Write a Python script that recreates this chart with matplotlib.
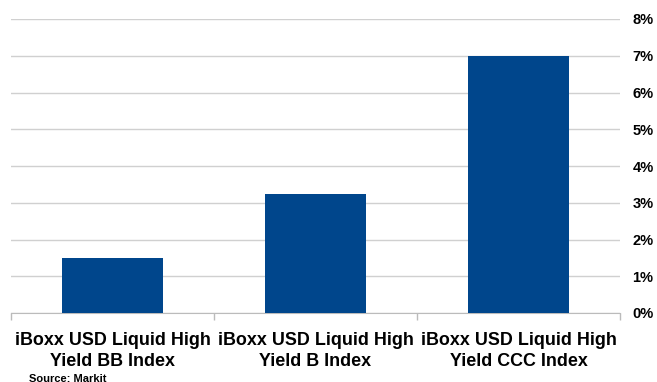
import matplotlib
matplotlib.use("Agg")
import matplotlib.pyplot as plt
from matplotlib.ticker import FuncFormatter, FixedLocator

categories = ["iBoxx USD Liquid High\nYield BB Index",
              "iBoxx USD Liquid High\nYield B Index",
              "iBoxx USD Liquid High\nYield CCC Index"]
values = [1.5, 3.25, 7.0]
yticks = [0, 1, 2, 3, 4, 5, 6, 7, 8]

plt.rcParams['font.family'] = ['Liberation Sans', 'DejaVu Sans']

fig = plt.figure(figsize=(6.57, 3.82), dpi=100)
ax = fig.add_axes([11/657, 1-313/382, (620-11)/657, (313-19)/382])

x = list(range(len(categories)))
ax.bar(x, values, width=0.5, color="#00468C", zorder=3)
ax.set_xlim(-0.5, len(categories)-0.5)
ax.set_ylim(0, 8)
ax.yaxis.tick_right()
ax.set_yticks(yticks)
ax.yaxis.set_major_formatter(FuncFormatter(lambda v, p: f"{int(v)}%"))
ax.tick_params(axis='y', length=0, pad=9, labelsize=10.5)
for lab in ax.get_yticklabels():
    lab.set_fontweight('bold')
ax.grid(axis='y', color='#D0D0D0', linewidth=1, zorder=0)

ax.set_xticks(x)
ax.set_xticklabels(categories, fontsize=12.9, fontweight='bold', linespacing=1.24)
ax.tick_params(axis='x', length=0, pad=14)
ax.xaxis.set_minor_locator(FixedLocator([-0.5, 0.5, 1.5, 2.5]))
ax.tick_params(axis='x', which='minor', length=5, color='#BBBBBB', width=1)

for s in ['top', 'left', 'right']:
    ax.spines[s].set_visible(False)
ax.spines['bottom'].set_color('#BBBBBB')

fig.text(29/657, 1-381.5/382, "Source: Markit", fontsize=8, fontweight='bold',
         family=['Liberation Sans Narrow', 'Liberation Sans', 'DejaVu Sans'],
         va='baseline', ha='left')

fig.savefig("out.png", dpi=100)
